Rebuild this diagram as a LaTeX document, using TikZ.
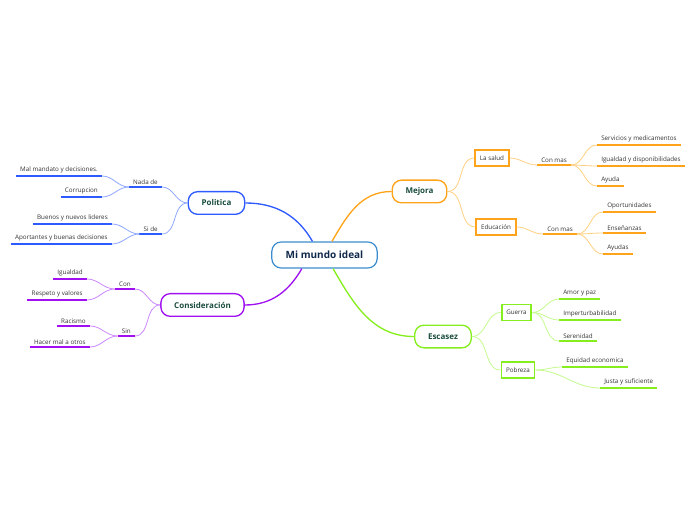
\documentclass[tikz,border=0pt]{standalone}
\usepackage{fontspec}
\setmainfont{Open Sans}
\usepackage{tikz}
\usepackage{xcolor}
\definecolor{rootline}{HTML}{3C8DD0}
\definecolor{roottext}{HTML}{10284A}
\definecolor{maintext}{HTML}{1B4D3E}
\definecolor{leaftext}{HTML}{333333}
\definecolor{polblue}{HTML}{2E5BFF}
\definecolor{pollight}{HTML}{8FA8FF}
\definecolor{conpurple}{HTML}{A010F0}
\definecolor{conlight}{HTML}{CC88FF}
\definecolor{mejorange}{HTML}{FFA31A}
\definecolor{mejlight}{HTML}{FFCF80}
\definecolor{escgreen}{HTML}{86EE1E}
\definecolor{esclight}{HTML}{C4FA8E}
\tikzset{
  rootbox/.style={draw=rootline,line width=0.9pt,rounded corners=7pt,fill=white,text=roottext,font=\fontsize{7.5}{9}\selectfont\bfseries,minimum width=79pt,minimum height=19.5pt},
  mainbox/.style={draw=#1,line width=1pt,rounded corners=7pt,fill=white,text=maintext,font=\fontsize{6}{7}\selectfont\bfseries,inner xsep=10pt,minimum height=17pt},
  subbox/.style={draw=#1,line width=1.4pt,fill=white,text=leaftext,font=\fontsize{4.7}{6}\selectfont,inner xsep=3.5pt,minimum height=12pt},
  leaf/.style={text=leaftext,font=\fontsize{4.7}{6}\selectfont,inner xsep=3pt,inner ysep=1.8pt,
    append after command={(\tikzlastnode.south west) edge[draw=#1,line width=1.5pt] (\tikzlastnode.south east)}},
  mainlink/.style={draw=#1,line width=1pt},
  sublink/.style={draw=#1,line width=0.6pt}
}
\begin{document}
\begin{tikzpicture}[x=0.75pt,y=-0.75pt]
  \useasboundingbox (0,0) rectangle (696,520);
  % main branches
  \node[rootbox] (root) at (324.5,255) {Mi mundo ideal};
  \node[mainbox=polblue] (politica) at (216.5,203) {Politica};
  \node[mainbox=conpurple] (consid) at (202.5,305) {Consideración};
  \node[mainbox=mejorange] (mejora) at (419.5,191.5) {Mejora};
  \node[mainbox=escgreen] (escasez) at (443,336.5) {Escasez};
  \draw[mainlink=polblue] ([xshift=-9pt]root.north) to[out=120,in=0] (politica.east);
  \draw[mainlink=mejorange] ([xshift=5.6pt]root.north) to[out=60,in=180] (mejora.west);
  \draw[mainlink=conpurple] ([xshift=-17pt]root.south) to[out=-120,in=0] (consid.east);
  \draw[mainlink=escgreen] ([xshift=6.4pt]root.south) to[out=-60,in=180] (escasez.west);

  % Politica
  \node[leaf=polblue,anchor=south east] (nadade) at (162,187) {Nada de};
  \node[leaf=polblue,anchor=south east] (side) at (162,234) {Si de};
  \node[leaf=polblue,anchor=south east] (malmandato) at (102,176) {Mal mandato y decisiones.};
  \node[leaf=polblue,anchor=south east] (corrupcion) at (102,197) {Corrupcion};
  \node[leaf=polblue,anchor=south east] (buenos) at (112,224) {Buenos y nuevos lideres};
  \node[leaf=polblue,anchor=south east] (aportantes) at (112,244) {Aportantes y buenas decisiones};
  \foreach \n in {nadade,side} \draw[sublink=pollight] (politica.west) to[out=180,in=0] (\n.south east);
  \foreach \n in {malmandato,corrupcion} \draw[sublink=pollight] (nadade.south west) to[out=180,in=0] (\n.south east);
  \foreach \n in {buenos,aportantes} \draw[sublink=pollight] (side.south west) to[out=180,in=0] (\n.south east);

  % Consideracion
  \node[leaf=conpurple,anchor=south east] (con) at (135,289) {Con};
  \node[leaf=conpurple,anchor=south east] (sin) at (135,336) {Sin};
  \node[leaf=conpurple,anchor=south east] (igualdad) at (87,279) {Igualdad};
  \node[leaf=conpurple,anchor=south east] (respeto) at (87,300) {Respeto y valores};
  \node[leaf=conpurple,anchor=south east] (racismo) at (90,326) {Racismo};
  \node[leaf=conpurple,anchor=south east] (hacermal) at (90,347) {Hacer mal a otros};
  \foreach \n in {con,sin} \draw[sublink=conlight] (consid.west) to[out=180,in=0] (\n.south east);
  \foreach \n in {igualdad,respeto} \draw[sublink=conlight] (con.south west) to[out=180,in=0] (\n.south east);
  \foreach \n in {racismo,hacermal} \draw[sublink=conlight] (sin.south west) to[out=180,in=0] (\n.south east);

  % Mejora
  \node[subbox=mejorange] (salud) at (492,158) {La salud};
  \node[subbox=mejorange] (educacion) at (496,227) {Educación};
  \node[leaf=mejorange,anchor=south west] (conmasA) at (537,165) {Con mas};
  \node[leaf=mejorange,anchor=south west] (conmasB) at (543,234) {Con mas};
  \node[leaf=mejorange,anchor=south west] (servicios) at (597,145) {Servicios y medicamentos};
  \node[leaf=mejorange,anchor=south west] (disponib) at (597,166) {Igualdad y disponibilidades};
  \node[leaf=mejorange,anchor=south west] (ayuda) at (597,186) {Ayuda};
  \node[leaf=mejorange,anchor=south west] (oportun) at (603,212) {Oportunidades};
  \node[leaf=mejorange,anchor=south west] (ensenanzas) at (603,233) {Enseñanzas};
  \node[leaf=mejorange,anchor=south west] (ayudas) at (603,254) {Ayudas};
  \foreach \n in {salud,educacion} \draw[sublink=mejlight] (mejora.east) to[out=0,in=180] (\n.west);
  \draw[sublink=mejlight] (salud.east) to[out=0,in=180] (conmasA.south west);
  \draw[sublink=mejlight] (educacion.east) to[out=0,in=180] (conmasB.south west);
  \foreach \n in {servicios,disponib,ayuda} \draw[sublink=mejlight] (conmasA.south east) to[out=0,in=180] (\n.south west);
  \foreach \n in {oportun,ensenanzas,ayudas} \draw[sublink=mejlight] (conmasB.south east) to[out=0,in=180] (\n.south west);

  % Escasez
  \node[subbox=escgreen] (guerra) at (516.5,312.5) {Guerra};
  \node[subbox=escgreen] (pobreza) at (518,370) {Pobreza};
  \node[leaf=escgreen,anchor=south west] (amor) at (559,299) {Amor y paz};
  \node[leaf=escgreen,anchor=south west] (imperturb) at (559,320) {Imperturbabilidad};
  \node[leaf=escgreen,anchor=south west] (serenidad) at (559,341) {Serenidad};
  \node[leaf=escgreen,anchor=south west] (equidad) at (562,367) {Equidad economica};
  \node[leaf=escgreen,anchor=south west] (justa) at (600,388) {Justa y suficiente};
  \foreach \n in {guerra,pobreza} \draw[sublink=esclight] (escasez.east) to[out=0,in=180] (\n.west);
  \foreach \n in {amor,imperturb,serenidad} \draw[sublink=esclight] (guerra.east) to[out=0,in=180] (\n.south west);
  \foreach \n in {equidad,justa} \draw[sublink=esclight] (pobreza.east) to[out=0,in=180] (\n.south west);
\end{tikzpicture}
\end{document}
